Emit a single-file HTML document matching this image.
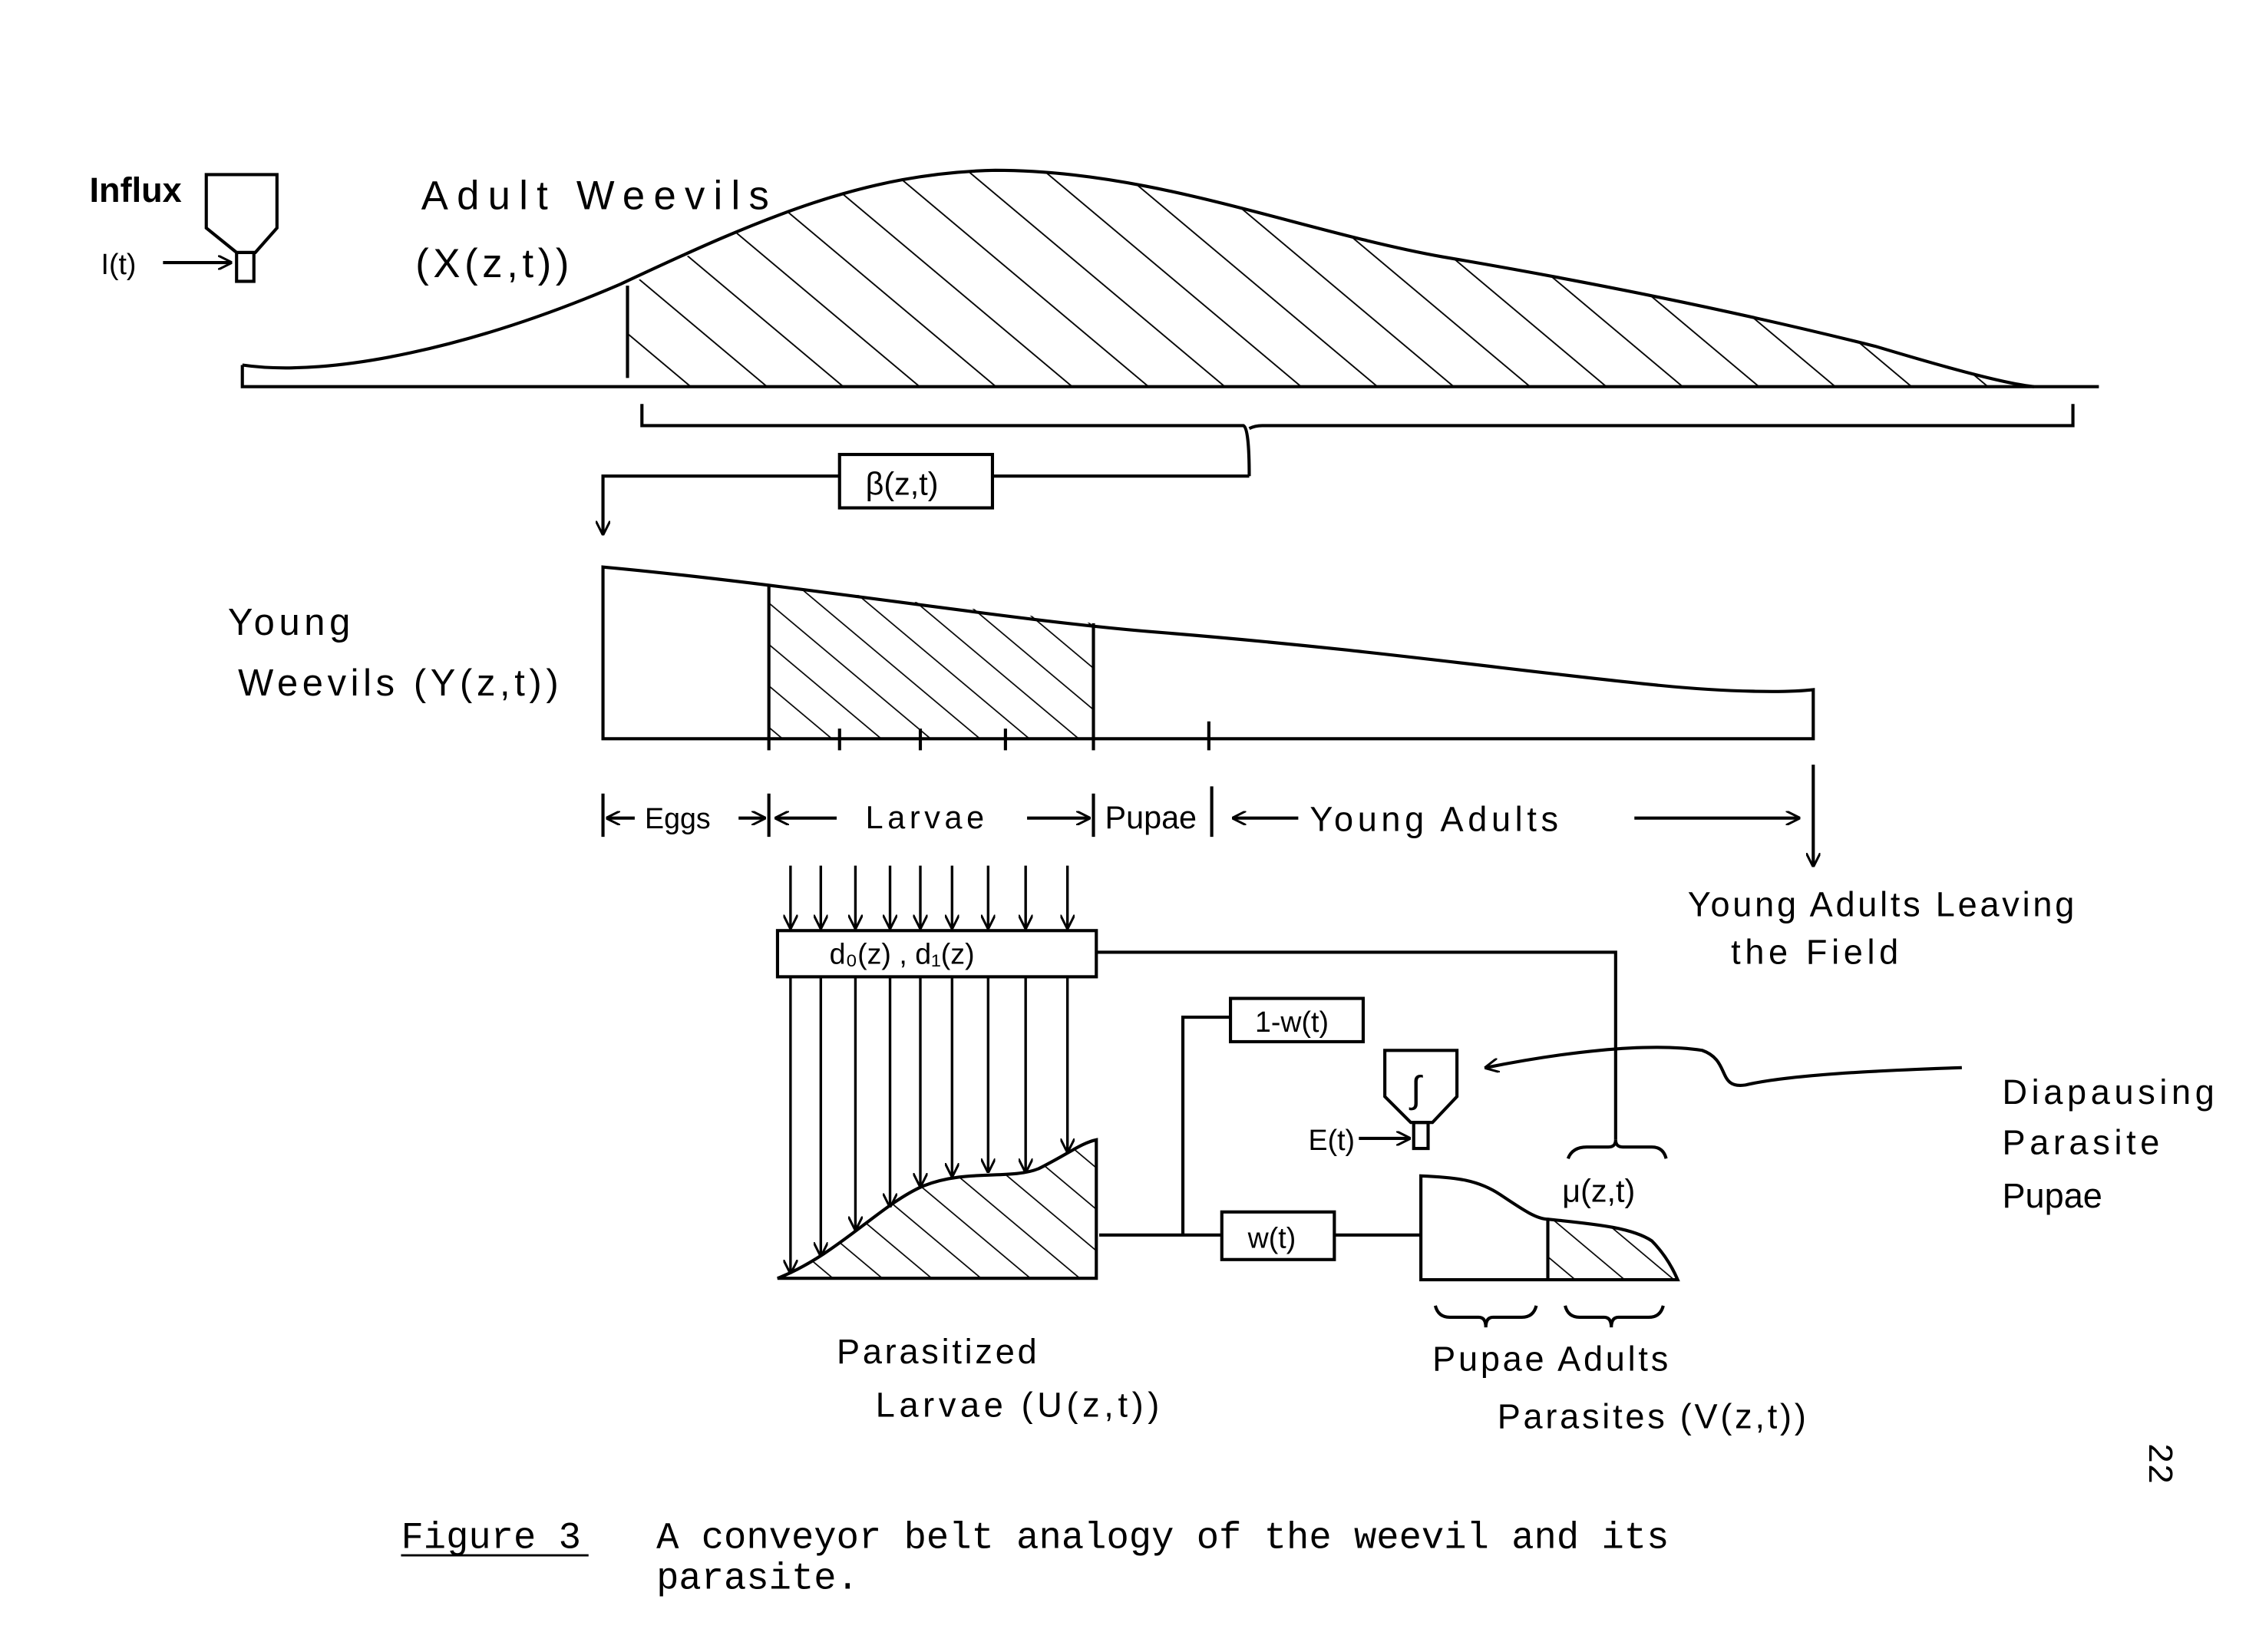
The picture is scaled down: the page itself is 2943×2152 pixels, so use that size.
<!DOCTYPE html>
<html><head><meta charset="utf-8"><style>
html,body{margin:0;padding:0;background:#fff;}
svg{display:block;}
text{font-family:"Liberation Sans",sans-serif;fill:#000;}
.m{font-family:"Liberation Mono",monospace;}
</style></head><body>
<svg width="2943" height="2152" viewBox="0 0 1566 1145" preserveAspectRatio="none" xmlns="http://www.w3.org/2000/svg">
<defs>
<pattern id="h" width="34" height="34" patternUnits="userSpaceOnUse" patternTransform="rotate(-50)">
<line x1="0" y1="0" x2="0" y2="34" stroke="#000" stroke-width="2"/>
</pattern>
<pattern id="h2" width="22" height="22" patternUnits="userSpaceOnUse" patternTransform="rotate(-50)">
<line x1="0" y1="0" x2="0" y2="22" stroke="#000" stroke-width="1.8"/>
</pattern>
<marker id="a" markerWidth="10" markerHeight="10" refX="9" refY="5" orient="auto" markerUnits="userSpaceOnUse"><path d="M0,0 L10,5 L0,10" fill="none" stroke="#000" stroke-width="1.6"/></marker>
</defs>
<g fill="none" stroke="#000" stroke-width="2.2">
<path d="M143,121 H192 V158 L177,175 H164 L143,158 Z"/>
<rect x="164" y="175" width="12" height="20"/>
<line x1="113" y1="182" x2="160" y2="182" marker-end="url(#a)"/>
<path d="M168,253 C230,262 330,240 430,197 C530,150 600,120 690,118 C800,118 900,160 1000,178 C1100,195 1200,215 1300,240 C1350,255 1390,266 1410,268"/>
<path d="M168,253 V268 H1455"/>
<path d="M435,198 C530,150 600,120 690,118 C800,118 900,160 1000,178 C1100,195 1200,215 1300,240 C1350,255 1390,266 1410,268 H435 Z" fill="url(#h)" stroke="none"/>
<line x1="435" y1="198" x2="435" y2="262"/>
<path d="M445,280 V295 H862 Q866,297 866,330 M866,297 Q870,295 875,295 H1437 V280"/>
<line x1="866" y1="330" x2="688" y2="330"/>
<rect x="582" y="315" width="106" height="37"/>
<path d="M582,330 H418 V370" marker-end="url(#a)"/>
<path d="M418,393 C550,405 700,430 800,438 C950,450 1050,465 1150,475 C1200,480 1240,480 1257,478 V512 H418 Z"/>
<path d="M533,405 L758,432 V512 H533 Z" fill="url(#h2)" stroke="none"/>
<line x1="533" y1="405" x2="533" y2="520"/>
<line x1="758" y1="432" x2="758" y2="520"/>
<path d="M582,505 V520 M638,505 V520 M697,505 V520 M838,500 V520"/>
<line x1="1257" y1="530" x2="1257" y2="600" marker-end="url(#a)"/>
<path d="M418,550 V580 M533,550 V580 M758,550 V580 M840,545 V580"/>
<line x1="440" y1="567" x2="421" y2="567" marker-end="url(#a)"/>
<line x1="512" y1="567" x2="530" y2="567" marker-end="url(#a)"/>
<line x1="580" y1="567" x2="538" y2="567" marker-end="url(#a)"/>
<line x1="712" y1="567" x2="755" y2="567" marker-end="url(#a)"/>
<line x1="900" y1="567" x2="855" y2="567" marker-end="url(#a)"/>
<line x1="1133" y1="567" x2="1247" y2="567" marker-end="url(#a)"/>
<g stroke-width="1.8">
<line x1="548" y1="600" x2="548" y2="643" marker-end="url(#a)"/>
<line x1="569" y1="600" x2="569" y2="643" marker-end="url(#a)"/>
<line x1="593" y1="600" x2="593" y2="643" marker-end="url(#a)"/>
<line x1="617" y1="600" x2="617" y2="643" marker-end="url(#a)"/>
<line x1="638" y1="600" x2="638" y2="643" marker-end="url(#a)"/>
<line x1="660" y1="600" x2="660" y2="643" marker-end="url(#a)"/>
<line x1="685" y1="600" x2="685" y2="643" marker-end="url(#a)"/>
<line x1="711" y1="600" x2="711" y2="643" marker-end="url(#a)"/>
<line x1="740" y1="600" x2="740" y2="643" marker-end="url(#a)"/>
<line x1="548" y1="677" x2="548" y2="882" marker-end="url(#a)"/>
<line x1="569" y1="677" x2="569" y2="870" marker-end="url(#a)"/>
<line x1="593" y1="677" x2="593" y2="852" marker-end="url(#a)"/>
<line x1="617" y1="677" x2="617" y2="836" marker-end="url(#a)"/>
<line x1="638" y1="677" x2="638" y2="822" marker-end="url(#a)"/>
<line x1="660" y1="677" x2="660" y2="815" marker-end="url(#a)"/>
<line x1="685" y1="677" x2="685" y2="812" marker-end="url(#a)"/>
<line x1="711" y1="677" x2="711" y2="812" marker-end="url(#a)"/>
<line x1="740" y1="677" x2="740" y2="798" marker-end="url(#a)"/>
</g>
<rect x="539" y="645" width="221" height="32"/>
<path d="M760,660 H1120 V790"/>
<path d="M539,886 C580,870 610,835 640,822 C670,810 700,818 720,810 C740,800 750,792 760,790 V886 Z" fill="url(#h2)"/>
<line x1="762" y1="856" x2="847" y2="856"/>
<rect x="847" y="840" width="78" height="33"/>
<line x1="925" y1="856" x2="985" y2="856"/>
<path d="M820,856 V705 H853"/>
<rect x="853" y="692" width="92" height="30"/>
<path d="M960,728 H1010 V760 L993,778 H978 L960,760 Z"/>
<rect x="980" y="778" width="10" height="18"/>
<line x1="942" y1="789" x2="977" y2="789" marker-end="url(#a)"/>
<path d="M1360,740 C1300,742 1240,745 1210,752 C1190,755 1200,735 1180,728 C1140,722 1080,730 1030,740" marker-end="url(#a)"/>
<path d="M985,887 V815 C1010,816 1025,818 1040,828 C1055,838 1065,845 1073,845 C1100,848 1130,850 1145,860 C1155,870 1160,880 1163,887 Z"/>
<path d="M1073,845 C1100,848 1130,850 1145,860 C1155,870 1160,880 1163,887 H1073 Z" fill="url(#h2)" stroke="none"/>
<line x1="1073" y1="845" x2="1073" y2="887"/>
<path d="M1087,803 Q1090,795 1100,795 H1115 Q1120,795 1120,790 Q1120,795 1125,795 H1145 Q1153,795 1155,803"/>
<path d="M995,905 Q997,913 1005,913 H1025 Q1030,913 1030,920 Q1030,913 1035,913 H1055 Q1063,913 1065,905"/>
<path d="M1085,905 Q1087,913 1095,913 H1112 Q1117,913 1117,920 Q1117,913 1122,913 H1143 Q1151,913 1153,905"/>
<line x1="278" y1="1078" x2="408" y2="1078" stroke-width="1.5"/>
</g>
<g font-size="24">
<text x="62" y="140" font-weight="bold">Influx</text>
<text x="70" y="190" font-size="20">I(t)</text>
<text x="292" y="145" font-size="28" letter-spacing="6">Adult  Weevils</text>
<text x="288" y="192" font-size="28" letter-spacing="3">(X(z,t))</text>
<text x="600" y="343" font-size="22">β(z,t)</text>
<text x="158" y="440" font-size="26" letter-spacing="3">Young</text>
<text x="165" y="482" font-size="26" letter-spacing="3">Weevils  (Y(z,t))</text>
<text x="447" y="574" font-size="20">Eggs</text>
<text x="600" y="574" font-size="22" letter-spacing="3">Larvae</text>
<text x="766" y="574" font-size="22">Pupae</text>
<text x="908" y="576" font-size="24" letter-spacing="3">Young   Adults</text>
<text x="1170" y="635" font-size="24" letter-spacing="2">Young Adults Leaving</text>
<text x="1200" y="668" font-size="24" letter-spacing="3">the  Field</text>
<text x="575" y="668" font-size="20">d₀(z)  ,  d₁(z)</text>
<text x="870" y="715" font-size="20">1-w(t)</text>
<text x="978" y="764" font-size="26">∫</text>
<text x="907" y="797" font-size="20">E(t)</text>
<text x="865" y="865" font-size="20">w(t)</text>
<text x="1083" y="833" font-size="22">μ(z,t)</text>
<text x="1388" y="765" font-size="24" letter-spacing="3">Diapausing</text>
<text x="1388" y="800" font-size="24" letter-spacing="3">Parasite</text>
<text x="1388" y="837" font-size="24">Pupae</text>
<text x="580" y="945" font-size="24" letter-spacing="2">Parasitized</text>
<text x="607" y="982" font-size="24" letter-spacing="3">Larvae (U(z,t))</text>
<text x="993" y="950" font-size="24" letter-spacing="2">Pupae  Adults</text>
<text x="1038" y="990" font-size="24" letter-spacing="2">Parasites (V(z,t))</text>
<text class="m" x="278" y="1073" font-size="26">Figure 3</text>
<text class="m" x="455" y="1073" font-size="26">A conveyor belt analogy of the weevil and its</text>
<text class="m" x="455" y="1101" font-size="26">parasite.</text>
<text class="m" x="1490" y="1000" font-size="24" transform="rotate(90 1490 1000)">22</text>
</g>
</svg>
</body></html>
